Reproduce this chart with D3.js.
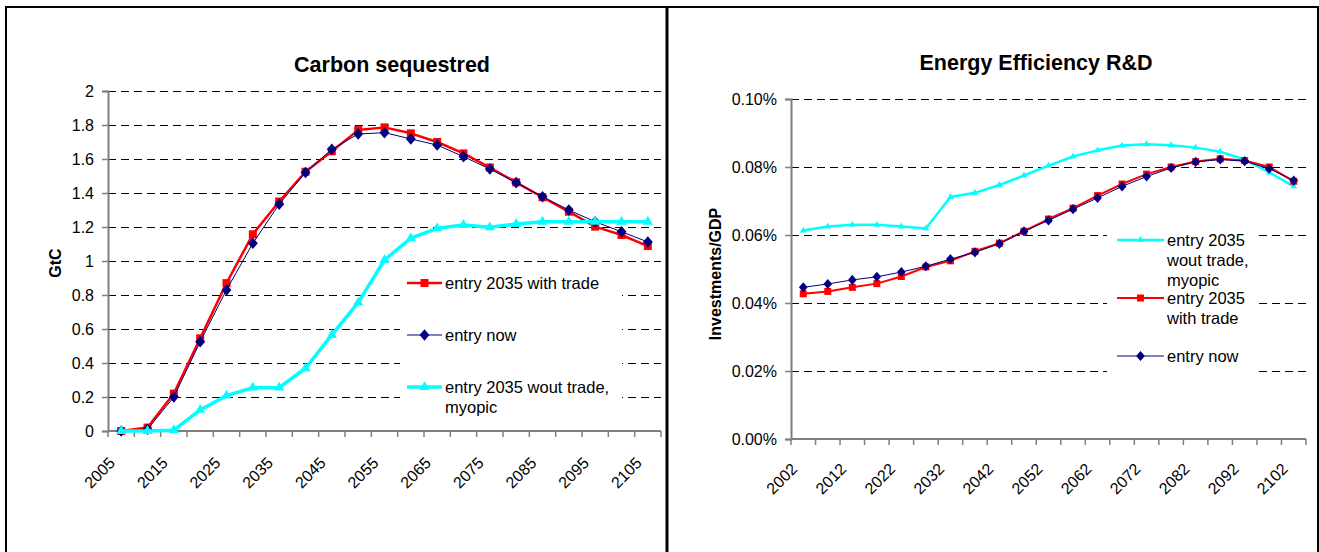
<!DOCTYPE html>
<html>
<head>
<meta charset="utf-8">
<script src="https://cdn.jsdelivr.net/npm/d3@7"></script>
<style>
  body { margin: 0; background: #fff; }
  svg { display: block; font-family: Arial, "Liberation Sans", sans-serif; }
</style>
</head>
<body>
<svg id="chart"></svg>
<script>
// ---------- data: carbon sequestred (GtC) ----------
const carbonYears = ["2005","2010","2015","2020","2025","2030","2035","2040","2045","2050","2055",
                     "2060","2065","2070","2075","2080","2085","2090","2095","2100","2105"];
const carbonTrade  = [0, 0.02, 0.22, 0.545, 0.87, 1.157, 1.35, 1.525, 1.645, 1.77, 1.786,
                      1.751, 1.70, 1.633, 1.55, 1.463, 1.375, 1.29, 1.202, 1.153, 1.088];
const carbonNow    = [0, 0.01, 0.20, 0.525, 0.83, 1.104, 1.334, 1.52, 1.657, 1.747, 1.755,
                      1.718, 1.682, 1.614, 1.541, 1.461, 1.378, 1.30, 1.231, 1.172, 1.112];
const carbonMyopic = [0, 0, 0.005, 0.124, 0.208, 0.255, 0.255, 0.369, 0.565, 0.755, 1.006,
                      1.134, 1.192, 1.212, 1.198, 1.218, 1.231, 1.231, 1.231, 1.231, 1.231];
const carbonYTicks = [0, 0.2, 0.4, 0.6, 0.8, 1, 1.2, 1.4, 1.6, 1.8, 2];
const carbonXLabels = ["2005","2015","2025","2035","2045","2055","2065","2075","2085","2095","2105"];

// ---------- data: energy efficiency R&D (% of GDP) ----------
const rdYears = ["2002","2007","2012","2017","2022","2027","2032","2037","2042","2047","2052",
                 "2057","2062","2067","2072","2077","2082","2087","2092","2097","2102"];
const rdMyopic = [0.0613, 0.0625, 0.0630, 0.0630, 0.0625, 0.0619, 0.0712, 0.0724, 0.0747, 0.0775, 0.0804,
                  0.0831, 0.0849, 0.0863, 0.0867, 0.0864, 0.0857, 0.0845, 0.0822, 0.0784, 0.0743];
const rdTrade  = [0.0427, 0.0434, 0.0446, 0.0457, 0.0478, 0.0506, 0.0524, 0.0552, 0.0576, 0.0611, 0.0647,
                  0.0679, 0.0716, 0.0750, 0.0779, 0.0800, 0.0816, 0.0824, 0.0819, 0.0800, 0.0758];
const rdNow    = [0.0446, 0.0456, 0.0468, 0.0477, 0.0491, 0.0508, 0.0529, 0.0549, 0.0574, 0.0611, 0.0643,
                  0.0676, 0.0709, 0.0743, 0.0772, 0.0797, 0.0815, 0.0822, 0.0817, 0.0795, 0.0760];
const rdYTicks = [0, 0.02, 0.04, 0.06, 0.08, 0.10];
const rdXLabels = ["2002","2012","2022","2032","2042","2052","2062","2072","2082","2092","2102"];

// colors
const RED = "#FF0000";
const NAVY = "#000080";
const CYAN = "#00FFFF";
const AXIS_GREY = "#7f7f7f";

const svg = d3.select("#chart")
              .attr("width", 1319)
              .attr("height", 552);

// outer frame + divider between the two panels
svg.append("rect")
   .attr("x", 6).attr("y", 7).attr("width", 1312).attr("height", 560)
   .attr("fill", "none").attr("stroke", "#000").attr("stroke-width", 2);
svg.append("line")
   .attr("x1", 667).attr("x2", 667).attr("y1", 7).attr("y2", 552)
   .attr("stroke", "#000").attr("stroke-width", 3);

// diamond a bit taller than wide, like the spreadsheet marker
const diamond = {
    draw(ctx, size) {
        const w = Math.sqrt(size) * 0.62, h = Math.sqrt(size) * 0.72;
        ctx.moveTo(0, -h); ctx.lineTo(w, 0); ctx.lineTo(0, h); ctx.lineTo(-w, 0); ctx.closePath();
    }
};

function drawPanel(p) {
    const g = svg.append("g");

    const x = d3.scaleBand().domain(p.years).range([p.left, p.right]);
    const y = d3.scaleLinear().domain([0, p.yMax]).range([p.bottom, p.top]);

    // dashed gridlines
    g.append("g")
     .selectAll("line")
     .data(p.yTicks.filter(t => t > 0))
     .enter()
     .append("line")
     .attr("x1", p.left).attr("x2", p.right)
     .attr("y1", d => Math.round(y(d)) + 0.5).attr("y2", d => Math.round(y(d)) + 0.5)
     .attr("stroke", "#000").attr("stroke-dasharray", "8,5")
     .attr("shape-rendering", "crispEdges");

    // y axis
    const yAxis = g.append("g")
                   .attr("transform", `translate(${p.left},0)`)
                   .call(d3.axisLeft(y).tickValues(p.yTicks).tickSize(6).tickPadding(8).tickFormat(p.yFormat));
    yAxis.select(".domain").attr("stroke", AXIS_GREY).attr("stroke-width", 2);
    yAxis.selectAll(".tick line").attr("stroke", AXIS_GREY).attr("stroke-width", 1.5);
    yAxis.selectAll(".tick text").attr("font-size", 16).attr("fill", "#000")
         .attr("font-family", "Arial, 'Liberation Sans', sans-serif");

    // x axis: ticks on band edges, labels every other category
    g.append("line")
     .attr("x1", p.left).attr("x2", p.right)
     .attr("y1", p.bottom).attr("y2", p.bottom)
     .attr("stroke", AXIS_GREY).attr("stroke-width", 2);
    const edges = p.years.map(d => x(d)).concat([x(p.years[p.years.length - 1]) + x.bandwidth()]);
    g.append("g")
     .selectAll("line")
     .data(edges)
     .enter()
     .append("line")
     .attr("x1", d => d).attr("x2", d => d)
     .attr("y1", p.bottom).attr("y2", p.bottom + 6)
     .attr("stroke", AXIS_GREY).attr("stroke-width", 1.5);
    g.append("g")
     .selectAll("text")
     .data(p.xLabels)
     .enter()
     .append("text")
     .attr("transform", d => `translate(${x(d) + x.bandwidth() / 2 - 5},${p.bottom + p.labelDrop}) rotate(-45)`)
     .attr("text-anchor", "end")
     .attr("font-size", 16)
     .text(d => d);

    // title and axis label
    g.append("text")
     .attr("x", p.titleX).attr("y", p.titleY)
     .attr("text-anchor", "middle")
     .attr("font-size", 21.5).attr("font-weight", "bold")
     .text(p.title);
    g.append("text")
     .attr("transform", `translate(${p.yLabelX},${p.yLabelY}) rotate(-90)`)
     .attr("text-anchor", "middle")
     .attr("font-size", 16).attr("font-weight", "bold")
     .text(p.yLabel);

    // legend background hides the gridlines behind it
    g.append("rect")
     .attr("x", p.legendBox[0]).attr("y", p.legendBox[1])
     .attr("width", p.legendBox[2]).attr("height", p.legendBox[3])
     .attr("fill", "#fff");

    // series lines and markers
    const line = d3.line()
                   .x((d, i) => x(p.years[i]) + x.bandwidth() / 2)
                   .y(d => y(d));

    p.series.forEach(s => {
        g.append("path")
         .attr("d", line(s.values))
         .attr("fill", "none")
         .attr("stroke", s.color)
         .attr("stroke-width", s.width)
         .attr("stroke-linejoin", "round");

        g.append("g")
         .selectAll("path")
         .data(s.values)
         .enter()
         .append("path")
         .attr("d", d3.symbol().type(s.symbol).size(s.size))
         .attr("transform", (d, i) => `translate(${x(p.years[i]) + x.bandwidth() / 2},${y(d)})`)
         .attr("fill", s.color);
    });

    // legend entries
    p.series.forEach(s => {
        const lg = g.append("g").attr("transform", `translate(${p.legendX},${s.legendY})`);
        lg.append("line")
          .attr("x1", 0).attr("x2", p.sampleLen)
          .attr("stroke", s.color).attr("stroke-width", s.width);
        lg.append("path")
          .attr("d", d3.symbol().type(s.symbol).size(s.size))
          .attr("transform", `translate(${p.sampleLen / 2},0)`)
          .attr("fill", s.color);
        lg.append("text")
          .attr("x", p.sampleLen + 3)
          .attr("font-size", 16.5)
          .selectAll("tspan")
          .data(s.label)
          .enter()
          .append("tspan")
          .attr("x", p.sampleLen + 3)
          .attr("y", (d, i) => i * 20)
          .attr("dy", "0.36em")
          .text(d => d);
    });
}

// left panel
drawPanel({
    years: carbonYears, xLabels: carbonXLabels, yTicks: carbonYTicks, yMax: 2,
    left: 108, right: 661, top: 91, bottom: 431, labelDrop: 33,
    yFormat: d3.format(""),
    title: "Carbon sequestred", titleX: 392, titleY: 72,
    yLabel: "GtC", yLabelX: 61, yLabelY: 263,
    legendBox: [400, 268, 222, 152], legendX: 407, sampleLen: 35,
    series: [
        { values: carbonTrade,  color: RED,  width: 2.5, symbol: d3.symbolSquare,   size: 64, label: ["entry 2035 with trade"], legendY: 283 },
        { values: carbonNow,    color: NAVY, width: 1,   symbol: diamond,           size: 64, label: ["entry now"], legendY: 335 },
        { values: carbonMyopic, color: CYAN, width: 3.5, symbol: d3.symbolTriangle, size: 45, label: ["entry 2035 wout trade,", "myopic"], legendY: 387 }
    ]
});

// right panel
drawPanel({
    years: rdYears, xLabels: rdXLabels, yTicks: rdYTicks, yMax: 0.1,
    left: 791, right: 1306, top: 99, bottom: 439, labelDrop: 31,
    yFormat: d => d3.format(".2f")(d) + "%",
    title: "Energy Efficiency R&D", titleX: 1036, titleY: 70,
    yLabel: "Investments/GDP", yLabelX: 721, yLabelY: 274,
    legendBox: [1107, 226, 150, 154], legendX: 1117, sampleLen: 47,
    series: [
        { values: rdMyopic, color: CYAN, width: 2.5, symbol: d3.symbolTriangle, size: 20, label: ["entry 2035", "wout trade,", "myopic"], legendY: 240 },
        { values: rdTrade,  color: RED,  width: 2,   symbol: d3.symbolSquare,   size: 49, label: ["entry 2035", "with trade"], legendY: 298 },
        { values: rdNow,    color: NAVY, width: 1,   symbol: diamond,           size: 49, label: ["entry now"], legendY: 356 }
    ]
});
</script>
</body>
</html>
